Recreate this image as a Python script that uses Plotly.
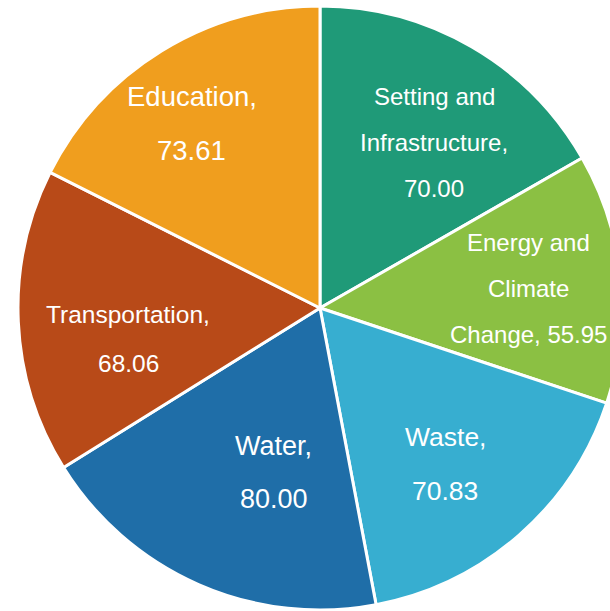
import math
import plotly.graph_objects as go

# ---- data ----
categories = ["Setting and Infrastructure", "Energy and Climate Change", "Waste",
              "Water", "Transportation", "Education"]
values = [70.00, 55.95, 70.83, 80.00, 68.06, 73.61]

# ---- style ----
colors = ["#1F9A78", "#8BC043", "#37AED0", "#1F6EA8", "#B84A18", "#F09E1E"]
label_templates = ["Setting and|Infrastructure,|{v}", "Energy and|Climate|Change, {v}",
                   "Waste,|{v}", "Water,|{v}", "Transportation,|{v}", "Education,|{v}"]
label_sizes = [24, 24, 26.5, 27, 24.5, 27.5]
label_spacing = [46, 46, 54, 53, 49, 54]
label_angle_shift = [4.4, 0.3, 2.4, -8.1, -6.6, -3.1]
label_radius_frac = [0.667, 0.695, 0.661, 0.567, 0.644, 0.745]

W, H = 640, 611
CX, CY, R = 320, 308, 302
FONT = "Liberation Sans, Arial, sans-serif"

dom_x = [(CX - R) / W, (CX + R) / W]
dom_y = [1 - (CY + R) / H, 1 - (CY - R) / H]

fig = go.Figure(go.Pie(
    labels=categories, values=values, sort=False, direction="clockwise", rotation=0,
    marker=dict(colors=colors, line=dict(color="white", width=3)),
    textinfo="none", hoverinfo="label+value", showlegend=False,
    domain=dict(x=dom_x, y=dom_y),
))

total = sum(values)
cum = 0.0
annotations = []
for i, v in enumerate(values):
    mid = (cum + v / 2) / total * 360.0
    cum += v
    ang = math.radians(mid + label_angle_shift[i])
    r = label_radius_frac[i] * R
    px = CX + r * math.sin(ang)
    py = CY - r * math.cos(ang)
    lines = label_templates[i].format(v=f"{v:.2f}").split("|")
    n = len(lines)
    for j, line in enumerate(lines):
        ly = py + (j - (n - 1) / 2) * label_spacing[i]
        annotations.append(dict(
            x=px / W, y=1 - ly / H, xref="paper", yref="paper",
            text=line, showarrow=False, xanchor="center", yanchor="middle",
            font=dict(family=FONT, size=label_sizes[i], color="white"),
        ))

fig.update_layout(
    width=W, height=H, margin=dict(l=0, r=0, t=0, b=0),
    paper_bgcolor="white", plot_bgcolor="white",
    annotations=annotations,
)

fig.write_html("out.html", config={"displayModeBar": False},
               post_script="document.body.style.margin='0';document.body.style.overflow='hidden';")
